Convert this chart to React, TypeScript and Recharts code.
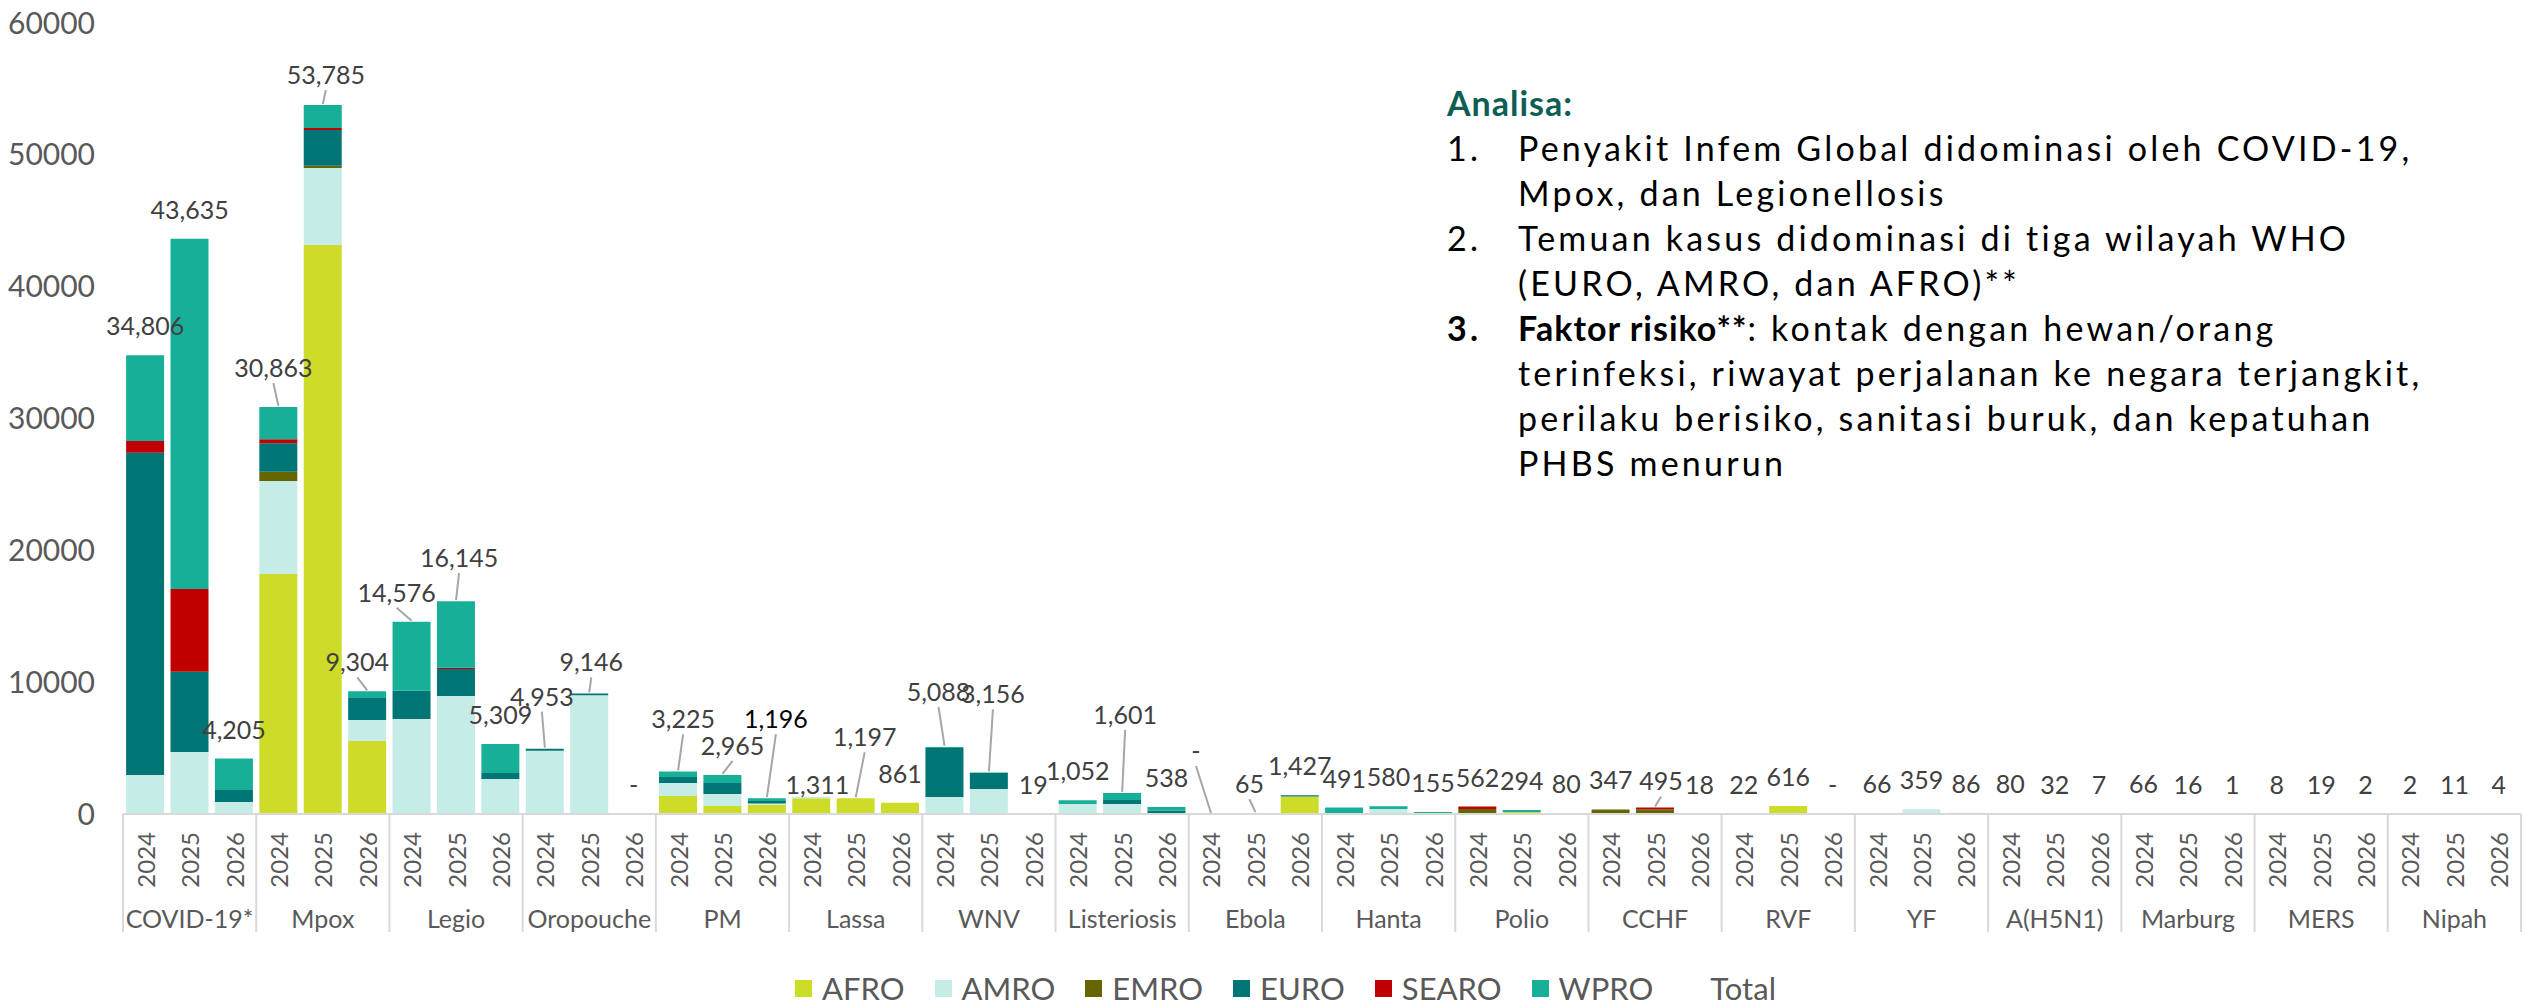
import React from 'react';
import { ComposedChart, Bar, Line, XAxis, YAxis, Legend, LabelList } from 'recharts';

const groups = [
  'COVID-19*', 'Mpox', 'Legio', 'Oropouche', 'PM', 'Lassa', 'WNV', 'Listeriosis', 'Ebola',
  'Hanta', 'Polio', 'CCHF', 'RVF', 'YF', 'A(H5N1)', 'Marburg', 'MERS', 'Nipah',
];
const years = ['2024', '2025', '2026'];

// total label per bar (3 per group, 2024/2025/2026)
const totals = [
  34806, 43635, 4205, 30863, 53785, 9304, 14576, 16145, 5309, 4953, 9146, 0,
  3225, 2965, 1196, 1311, 1197, 861, 5088, 3156, 19, 1052, 1601, 538,
  0, 65, 1427, 491, 580, 155, 562, 294, 80, 347, 495, 18,
  22, 616, 0, 66, 359, 86, 80, 32, 7, 66, 16, 1, 8, 19, 2, 2, 11, 4,
];

const afro = [
  0, 0, 0, 18205, 43162, 5537, 0, 0, 0, 0, 0, 0,
  1365, 607, 700, 1196, 1197, 861, 0, 0, 0, 0, 0, 0,
  0, 65, 1327, 0, 0, 0, 80, 150, 0, 0, 0, 0,
  22, 616, 0, 26, 0, 0, 0, 0, 0, 66, 16, 1, 0, 0, 0, 0, 0, 0,
];
const amro = [
  2958, 4703, 910, 7055, 5841, 1593, 7206, 8951, 2655, 4800, 9000, 0,
  987, 910, 100, 115, 0, 0, 1290, 1896, 0, 760, 759, 60,
  0, 0, 0, 0, 380, 0, 0, 0, 0, 0, 0, 0,
  0, 0, 0, 40, 359, 86, 0, 20, 7, 0, 0, 0, 0, 0, 0, 0, 0, 0,
];
const emro = [
  0, 0, 0, 706, 177, 0, 0, 0, 0, 0, 0, 0,
  0, 0, 0, 0, 0, 0, 0, 0, 0, 0, 0, 0,
  0, 0, 0, 0, 0, 0, 300, 0, 0, 347, 365, 0,
  0, 0, 0, 0, 0, 0, 0, 0, 0, 0, 0, 0, 8, 10, 2, 0, 0, 0,
];
const euro = [
  24450, 6092, 910, 2154, 2705, 1669, 2147, 2048, 455, 153, 146, 0,
  455, 835, 180, 0, 0, 0, 3716, 1214, 19, 0, 303, 200,
  0, 0, 100, 0, 0, 0, 0, 0, 0, 0, 0, 0,
  0, 0, 0, 0, 0, 0, 0, 12, 0, 0, 0, 0, 0, 9, 0, 0, 0, 0,
];
const searo = [
  890, 6272, 0, 304, 152, 0, 0, 100, 0, 0, 0, 0,
  0, 0, 0, 0, 0, 0, 0, 0, 0, 0, 0, 0,
  0, 0, 0, 0, 0, 0, 182, 0, 80, 0, 130, 18,
  0, 0, 0, 0, 0, 0, 0, 0, 0, 0, 0, 0, 0, 0, 0, 2, 11, 4,
];
const wpro = [
  6508, 26568, 2385, 2439, 1748, 505, 5223, 5046, 2199, 0, 0, 0,
  418, 613, 216, 0, 0, 0, 82, 46, 0, 292, 539, 278,
  0, 0, 0, 491, 200, 155, 0, 144, 0, 0, 0, 0,
  0, 0, 0, 0, 0, 0, 80, 0, 0, 0, 0, 0, 0, 0, 0, 0, 0, 0,
];

const yTicks = [0, 10000, 20000, 30000, 40000, 50000, 60000];

const regions = [
  { key: 'AFRO', color: '#CDDC29', values: afro },
  { key: 'AMRO', color: '#C6ECE8', values: amro },
  { key: 'EMRO', color: '#666600', values: emro },
  { key: 'EURO', color: '#007575', values: euro },
  { key: 'SEARO', color: '#C00000', values: searo },
  { key: 'WPRO', color: '#17AF97', values: wpro },
];

const data = totals.map((total, i) => {
  const row: Record<string, any> = {
    id: i,
    group: groups[Math.floor(i / 3)],
    year: years[i % 3],
    total,
  };
  regions.forEach(r => { row[r.key] = r.values[i]; });
  return row;
});

// hand-moved total labels (as in the source slide), with leader lines
const labelNudges: Record<number, { dx: number; dy: number; leader?: boolean; dark?: boolean }> = {
  3: { dx: -5, dy: -10, leader: true },
  4: { dx: 3, dy: -1, leader: true },
  5: { dx: -10, dy: 0, leader: true },
  6: { dx: -15, dy: 0, leader: true },
  7: { dx: 3, dy: -14, leader: true },
  9: { dx: -3, dy: -23, leader: true },
  10: { dx: 2, dy: -2, leader: true },
  12: { dx: 5, dy: -23, leader: true },
  13: { dx: 10, dy: 0, leader: true },
  14: { dx: 9, dy: -50, leader: true, dark: true },
  15: { dx: 6, dy: 17 },
  16: { dx: 9, dy: -32, leader: true },
  18: { dx: -6, dy: -26, leader: true },
  19: { dx: 4, dy: -49, leader: true },
  22: { dx: 3, dy: -49, leader: true },
  24: { dx: -15, dy: -34, leader: true },
  25: { dx: -6, dy: 0, leader: true },
  34: { dx: 6, dy: 3, leader: true },
};

const FONT = 'Lato, "Open Sans", sans-serif';
const GRAY = '#595959';

function CategoryTick(props: any) {
  const { x, y, payload } = props;
  const i = Number(payload.value);
  const half = payload.offset || 22.2;
  const row = data[i];
  if (!row) return null;
  return (
    <g>
      <text
        x={x}
        y={y + 18}
        transform={`rotate(-90, ${x}, ${y + 18})`}
        textAnchor="end"
        dominantBaseline="central"
        fontSize={24}
        fontFamily={FONT}
        fill={GRAY}
      >
        {row.year}
      </text>
      {i % 3 === 1 && (
        <text x={x} y={y + 104} textAnchor="middle" dominantBaseline="central" fontSize={25} fontFamily={FONT} fill={GRAY}>
          {row.group}
        </text>
      )}
      {i % 3 === 0 && <line x1={x - half} x2={x - half} y1={y} y2={y + 118} stroke="#D9D9D9" strokeWidth={2} />}
      {i === data.length - 1 && <line x1={x + half} x2={x + half} y1={y} y2={y + 118} stroke="#D9D9D9" strokeWidth={2} />}
    </g>
  );
}

function TotalLabel(props: any) {
  const { x, y, value, index } = props;
  const text = value === 0 ? '-' : Number(value).toLocaleString('en-US');
  const nudge = labelNudges[index] || { dx: 0, dy: 0 };
  const cx = x + nudge.dx;
  const cy = y - 30 + nudge.dy;
  return (
    <g>
      {nudge.leader && (
        <line x1={cx} y1={cy + 16} x2={x} y2={y - 1} stroke="#A6A6A6" strokeWidth={2} />
      )}
      <text
        x={cx}
        y={cy}
        textAnchor="middle"
        dominantBaseline="central"
        fontSize={25}
        fontFamily={FONT}
        fill={nudge.dark ? '#000' : '#404040'}
      >
        {text}
      </text>
    </g>
  );
}

function LegendBox() {
  const items = [...regions.map(r => ({ key: r.key, color: r.color })), { key: 'Total', color: 'transparent' }];
  return (
    <div style={{ height: 34, display: 'flex', justifyContent: 'center', alignItems: 'center', gap: 30, paddingLeft: 50, fontFamily: FONT }}>
      {items.map(it => (
        <div key={it.key} style={{ display: 'flex', alignItems: 'center', gap: 10 }}>
          <span style={{ width: 17, height: 17, background: it.color, display: 'inline-block' }} />
          <span style={{ fontSize: 31, color: GRAY, lineHeight: '34px' }}>{it.key}</span>
        </div>
      ))}
    </div>
  );
}

const notes = [
  { n: '1.', bold: '', lines: ['Penyakit Infem Global didominasi oleh COVID-19,', 'Mpox, dan Legionellosis'] },
  { n: '2.', bold: '', lines: ['Temuan kasus didominasi di tiga wilayah WHO', '(EURO, AMRO, dan AFRO)**'] },
  {
    n: '3.',
    bold: 'Faktor risiko**',
    lines: [
      ': kontak dengan hewan/orang',
      'terinfeksi, riwayat perjalanan ke negara terjangkit,',
      'perilaku berisiko, sanitasi buruk, dan kepatuhan',
      'PHBS menurun',
    ],
  },
];

export default function App() {
  return (
    <div style={{ position: 'absolute', left: 0, top: 0, width: 2526, height: 1005, background: '#fff' }}>
      <ComposedChart
        width={2526}
        height={1005}
        data={data}
        margin={{ top: 23, right: 5, left: 0, bottom: 0 }}
        barCategoryGap="7%"
        style={{ fontFamily: FONT }}
      >
        <YAxis
          width={123}
          domain={[0, 60000]}
          ticks={yTicks}
          axisLine={false}
          tickLine={false}
          tickSize={0}
          tickMargin={28}
          tick={{ fontSize: 30, fill: GRAY, fontFamily: FONT }}
        />
        <XAxis
          dataKey="id"
          height={157}
          interval={0}
          tickLine={false}
          tickSize={0}
          tickMargin={0}
          axisLine={{ stroke: '#D9D9D9', strokeWidth: 2 }}
          tick={<CategoryTick />}
        />
        {regions.map(r => (
          <Bar key={r.key} dataKey={r.key} stackId="a" fill={r.color} isAnimationActive={false} />
        ))}
        <Line dataKey="total" stroke="none" dot={false} activeDot={false} legendType="none" isAnimationActive={false}>
          <LabelList dataKey="total" content={<TotalLabel />} />
        </Line>
        <Legend verticalAlign="bottom" align="center" content={<LegendBox />} />
      </ComposedChart>
      <div
        style={{
          position: 'absolute',
          left: 1447,
          top: 80,
          fontFamily: FONT,
          fontSize: 34,
          letterSpacing: '3.2px',
          lineHeight: '45px',
          color: '#000',
          whiteSpace: 'nowrap',
        }}
      >
        <div style={{ fontWeight: 700, color: '#0D5E55', letterSpacing: '1px' }}>Analisa:</div>
        {notes.map(note => (
          <div key={note.n} style={{ display: 'flex' }}>
            <div style={{ width: 71, flex: 'none', fontWeight: note.bold ? 700 : 400 }}>{note.n}</div>
            <div>
              {note.lines.map((line, k) => (
                <div key={k}>
                  {k === 0 && note.bold && <b style={{ letterSpacing: '1px' }}>{note.bold}</b>}
                  {line}
                </div>
              ))}
            </div>
          </div>
        ))}
      </div>
    </div>
  );
}
